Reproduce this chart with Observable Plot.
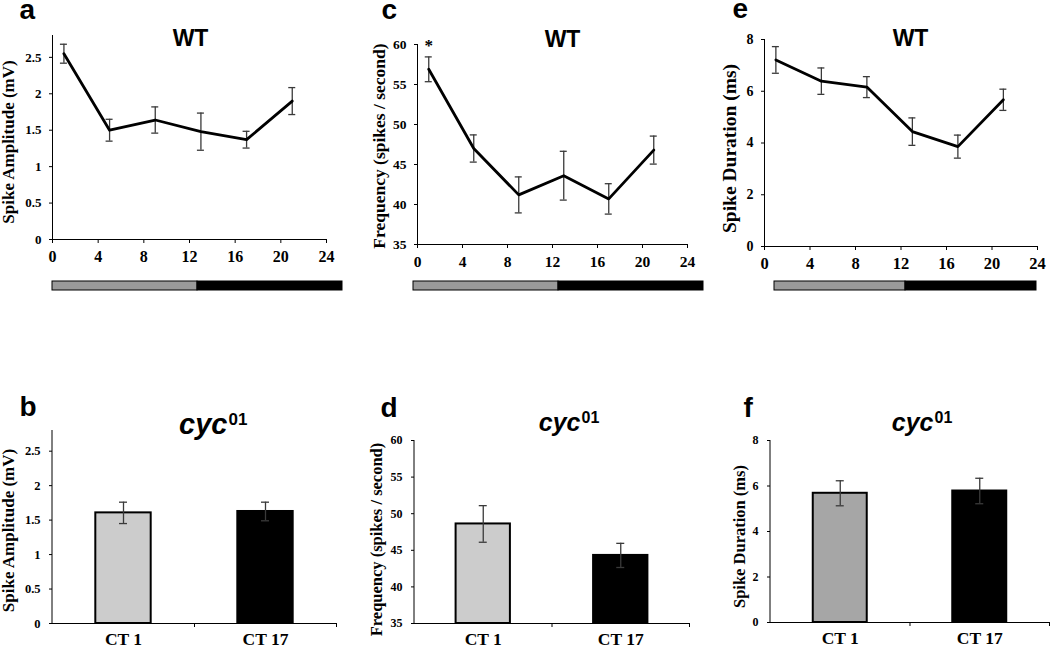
<!DOCTYPE html>
<html><head><meta charset="utf-8">
<script src="https://cdn.jsdelivr.net/npm/d3@7"></script>
<script src="https://cdn.jsdelivr.net/npm/@observablehq/plot@0.6"></script>
<style>
body{margin:0;background:#fff}
#fig{position:relative;width:1050px;height:648px;overflow:hidden;background:#fff}
#fig svg{position:absolute;overflow:visible;background:transparent}
</style></head><body><div id="fig"></div>
<script>
// ---------- data ----------
const ctHours = [1, 5, 9, 13, 17, 21];
const hourTicks = [0, 4, 8, 12, 16, 20, 24];
const ampWT = [2.55, 1.50, 1.64, 1.48, 1.37, 1.90];
const ampWTsem = [0.13, 0.15, 0.18, 0.255, 0.115, 0.185];
const freqWT = [56.9, 47.0, 41.2, 43.6, 40.7, 46.8];
const freqWTsem = [1.55, 1.7, 2.25, 3.05, 1.9, 1.75];
const durWT = [7.21, 6.39, 6.16, 4.44, 3.86, 5.67];
const durWTsem = [0.515, 0.51, 0.405, 0.53, 0.445, 0.41];
const phases = ["subjective day", "subjective night"];
const phaseHours = [12, 12];
const phaseColors = ["#9a9a9a", "#000000"];
const cycCats = ["CT 1", "CT 17"];
const ampCyc = [1.605, 1.625];
const ampCycSem = [0.155, 0.135];
const freqCyc = [48.6, 44.3];
const freqCycSem = [2.5, 1.65];
const durCyc = [5.68, 5.78];
const durCycSem = [0.55, 0.56];
const ampTicks = [0, 0.5, 1, 1.5, 2, 2.5];
const freqTicks = [35, 40, 45, 50, 55, 60];
const durTicks = [0, 2, 4, 6, 8];
const labelAmp = "Spike Amplitude (mV)";
const labelFreq = "Frequency (spikes / second)";
const labelDur = "Spike Duration (ms)";

// ---------- helpers ----------
const fig = document.getElementById("fig");
const SERIF = "Liberation Serif, 'Times New Roman', serif";
const SANS = "Liberation Sans, Arial, sans-serif";

function place(svg, left, top) {
  svg.style.left = left + "px";
  svg.style.top = top + "px";
  fig.appendChild(svg);
}
// text with baseline at page coords (px, py)
function textAt(str, g, px, py, o = {}) {
  return Plot.text([str], {
    text: d => d, frameAnchor: "top-left",
    dx: px - g.left - g.ml, dy: py - g.top - g.mt,
    lineAnchor: "bottom", textAnchor: o.anchor || "start",
    fontFamily: o.family || SANS, fontSize: o.size || 28,
    fontWeight: "bold", fontStyle: o.style || "normal", fill: "black"
  });
}
function yLabel(str, g, cx, cy, size) {
  const midY = g.top + g.mt + (g.h - g.mt - g.mb) / 2;
  return Plot.text([str], {
    text: d => d, frameAnchor: "left", rotate: -90,
    dx: cx - g.left - g.ml, dy: cy - midY,
    textAnchor: "middle", lineAnchor: "middle",
    fontFamily: SERIF, fontWeight: "bold", fontSize: size, fill: "black"
  });
}
function yAxis(g, ticks) {
  return Plot.axisY({ticks, tickSize: 3, tickPadding: g.ytp || 8, tickFormat: d => String(d),
    fontFamily: SERIF, fontWeight: "bold", fontSize: g.yfs, label: null});
}

function linePanel(g, means, sems, extra) {
  const rows = ctHours.map((x, i) => ({x, m: means[i], lo: means[i] - sems[i], hi: means[i] + sems[i]}));
  const errStyle = {stroke: "#3a3a3a", strokeWidth: 1.3};
  const svg = Plot.plot({
    width: g.w, height: g.h, marginLeft: g.ml, marginRight: g.mr, marginTop: g.mt, marginBottom: g.mb,
    x: {domain: [0, 24]}, y: {domain: g.ydomain},
    marks: [
      yAxis(g, g.yticks),
      Plot.axisX({ticks: hourTicks, tickSize: 4, tickPadding: 7, tickFormat: d => String(d),
        fontFamily: SERIF, fontWeight: "bold", fontSize: g.xfs, label: null}),
      Plot.ruleX([0], {stroke: "black", strokeWidth: 1}),
      Plot.ruleY([g.ydomain[0]], {stroke: "black", strokeWidth: 1}),
      Plot.ruleX(rows, {x: "x", y1: "lo", y2: "hi", ...errStyle}),
      Plot.ruleY(rows, {x1: d => d.x, x2: d => d.x, y: "hi", insetLeft: -3.5, insetRight: -3.5, ...errStyle}),
      Plot.ruleY(rows, {x1: d => d.x, x2: d => d.x, y: "lo", insetLeft: -3.5, insetRight: -3.5, ...errStyle}),
      Plot.line(rows, {x: "x", y: "m", stroke: "black", strokeWidth: 2.8}),
      ...(extra ? extra(rows) : []),
      textAt(g.letter, g, g.lx, g.ly, {size: 28}),
      textAt("WT", g, g.tx, g.ty, {size: 23, anchor: "middle"}),
      yLabel(g.label, g, g.ycx, g.ycy, g.lfs)
    ]
  });
  place(svg, g.left, g.top);
}

function strip(s) {
  const rows = phases.map((p, i) => ({p, h: phaseHours[i]}));
  const svg = Plot.plot({
    width: s.w, height: 9, margin: 0,
    x: {domain: [0, 24], axis: null}, y: {axis: null},
    color: {domain: phases, range: phaseColors},
    marks: [Plot.barX(rows, {x: "h", fill: "p", stroke: "black", strokeWidth: 1})]
  });
  place(svg, s.left, s.top);
}

function barPanel(g, means, sems, colors) {
  const rows = cycCats.map((c, i) => ({c, m: means[i], lo: means[i] - sems[i], hi: means[i] + sems[i]}));
  const pad = g.pad;
  const step = (g.w - g.ml - g.mr) / cycCats.length;
  const bw = step * (1 - pad);
  const capIn = (bw - 8) / 2;
  const base = g.ydomain[0];
  const errStyle = {stroke: "#3a3a3a", strokeWidth: 1.3};
  const svg = Plot.plot({
    width: g.w, height: g.h, marginLeft: g.ml, marginRight: g.mr, marginTop: g.mt, marginBottom: g.mb,
    x: {domain: cycCats, paddingInner: pad, paddingOuter: pad / 2, round: false},
    y: {domain: g.ydomain},
    color: {domain: cycCats, range: colors},
    marks: [
      yAxis(g, g.yticks),
      Plot.axisX({tickSize: 0, tickPadding: 9.5, fontFamily: SERIF, fontWeight: "bold", fontSize: 17.5, label: null}),
      Plot.barY(rows, {x: "c", y1: base, y2: "m", fill: "c", stroke: "black", strokeWidth: 2}),
      Plot.ruleX(rows, {x: "c", y1: "lo", y2: "hi", ...errStyle}),
      Plot.tickY(rows, {x: "c", y: "hi", insetLeft: capIn, insetRight: capIn, ...errStyle}),
      Plot.tickY(rows, {x: "c", y: "lo", insetLeft: capIn, insetRight: capIn, ...errStyle}),
      Plot.ruleY([base], {stroke: "black", strokeWidth: 1}),
      Plot.ruleX(rows, {x: "c", y1: base, y2: base, dx: step / 2, insetBottom: -4, stroke: "black", strokeWidth: 1}),
      textAt(g.letter, g, g.lx, g.ly, {size: 28}),
      textAt("cyc", g, g.jx, g.cb, {size: g.cfs, anchor: "end", style: "italic"}),
      textAt("01", g, g.jx + 1, g.sb, {size: g.sfs, anchor: "start"}),
      yLabel(g.label, g, g.ycx, g.ycy, g.lfs)
    ]
  });
  // y axis line
  const line = document.createElementNS("http://www.w3.org/2000/svg", "line");
  line.setAttribute("x1", g.ml); line.setAttribute("x2", g.ml);
  line.setAttribute("y1", g.mt); line.setAttribute("y2", g.h - g.mb);
  line.setAttribute("stroke", "black");
  svg.appendChild(line);
  place(svg, g.left, g.top);
}

// ---------- top row: WT time courses ----------
linePanel({left: 0, top: 0, w: 350, h: 300, ml: 52, mr: 24, mt: 35, mb: 61,
  ydomain: [0, 2.8], yticks: ampTicks, yfs: 13, xfs: 16, lfs: 17,
  letter: "a", lx: 19, ly: 18, tx: 190, ty: 45, label: labelAmp, ycx: 8.5, ycy: 141.5}, ampWT, ampWTsem);

linePanel({left: 350, top: 0, w: 350, h: 300, ml: 67, mr: 13, mt: 44, mb: 56,
  ydomain: [35, 60], yticks: freqTicks, yfs: 13.5, xfs: 15.5, lfs: 17.5,
  letter: "c", lx: 381, ly: 18, tx: 562, ty: 46.5, label: labelFreq, ycx: 379, ycy: 145.5},
  freqWT, freqWTsem,
  rows => [Plot.text(rows.slice(0, 1), {x: "x", y: "hi", text: () => "*", dy: -6, lineAnchor: "bottom",
    fontFamily: SERIF, fontWeight: "bold", fontSize: 17, fill: "black"})]);

linePanel({left: 700, top: 0, w: 350, h: 300, ml: 64, mr: 13, mt: 39, mb: 54,
  ydomain: [0, 8], yticks: durTicks, yfs: 14, xfs: 16.5, lfs: 19.5,
  letter: "e", lx: 732, ly: 17, tx: 910, ty: 45, label: labelDur, ycx: 729, ycy: 148}, durWT, durWTsem);

strip({left: 52, top: 281, w: 290});
strip({left: 413, top: 281, w: 290});
strip({left: 774, top: 281, w: 262});

// ---------- bottom row: cyc01 ----------
barPanel({left: 0, top: 330, w: 350, h: 318, ml: 52, mr: 14, mt: 100, mb: 25, pad: 0.61,
  ydomain: [0, 2.8], yticks: ampTicks, yfs: 12.5, ytp: 9, lfs: 17,
  letter: "b", lx: 19, ly: 415, jx: 227, cb: 433, sb: 424, cfs: 29, sfs: 17,
  label: labelAmp, ycx: 8.5, ycy: 530},
  ampCyc, ampCycSem, ["#cccccc", "#000000"]);

barPanel({left: 350, top: 330, w: 350, h: 318, ml: 64, mr: 11, mt: 110, mb: 25, pad: 0.605,
  ydomain: [35, 60], yticks: freqTicks, yfs: 12, ytp: 9, lfs: 16.5,
  letter: "d", lx: 380, ly: 416.7, jx: 580, cb: 430, sb: 422, cfs: 25, sfs: 16,
  label: labelFreq, ycx: 376.5, ycy: 539},
  freqCyc, freqCycSem, ["#cccccc", "#000000"]);

barPanel({left: 700, top: 330, w: 350, h: 318, ml: 70, mr: 1, mt: 110, mb: 26, pad: 0.613,
  ydomain: [0, 8], yticks: durTicks, yfs: 12, ytp: 9, lfs: 16.5,
  letter: "f", lx: 743, ly: 416.7, jx: 933, cb: 430, sb: 422, cfs: 25, sfs: 16,
  label: labelDur, ycx: 739, ycy: 536},
  durCyc, durCycSem, ["#a6a6a6", "#000000"]);
</script></body></html>
